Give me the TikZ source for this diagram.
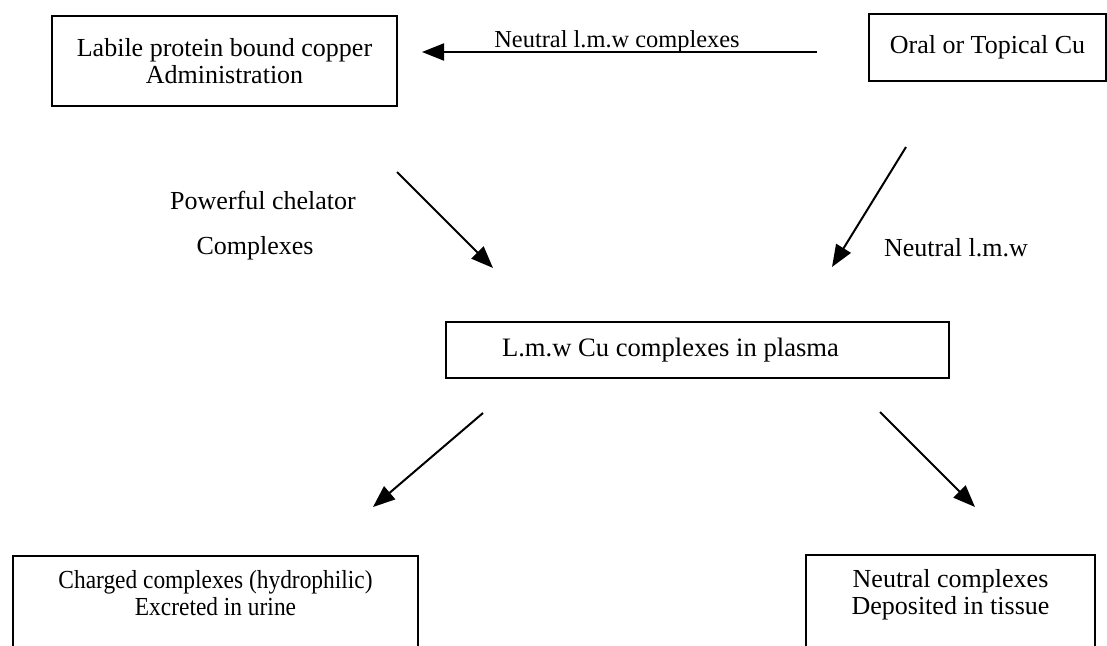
\documentclass[tikz,border=0pt]{standalone}
\usepackage{fontspec}
\setmainfont{Liberation Serif}
\newfontfamily\narrowserif{Liberation Serif}[FakeStretch = 0.9]
\usetikzlibrary{arrows.meta}

\begin{document}
\begin{tikzpicture}[x = 0.5pt, y = -0.5pt,
    box/.style = {draw, line width = 1pt, align = center, inner sep = 0pt, font = \fontsize{13}{13.5}\selectfont},
    arr/.style = {-{Triangle[length = 11pt, width = 8.5pt]}, line width = 1pt},
    lbl/.style = {inner sep = 0pt, font = \fontsize{13}{15}\selectfont}]
  \useasboundingbox (0, 0) rectangle (1107, 646);
  \node [box, minimum width = 172.5pt, minimum height = 45pt] (labile) at (224.5, 61) {Labile protein bound copper\\Administration};
  \node [box, minimum width = 118.5pt, minimum height = 33.5pt] (oral) at (987.5, 47.5) {Oral or Topical Cu};
  \node [box, align = flush left, text width = 195.5pt, inner xsep = 28pt, minimum height = 28pt, font = \fontsize{13.3}{15}\selectfont] (plasma) at (697.5, 350) {L.m.w Cu complexes in plasma};
  \node [box, anchor = north, minimum width = 202.5pt, inner ysep = 7pt, text depth = 60pt, font = \narrowserif\fontsize{13}{13.5}\selectfont] (urine) at (215.5, 555) {Charged complexes (hydrophilic)\\Excreted in urine};
  \node [box, anchor = north, minimum width = 144.5pt, inner ysep = 7pt, text depth = 60pt] (tissue) at (950.5, 554) {Neutral complexes\\Deposited in tissue};
  \coordinate (top-from) at (817, 52);
  \coordinate (top-to) at (422, 52);
  \coordinate (chel-from) at (397, 172);
  \coordinate (chel-to) at (493, 268);
  \coordinate (oral-from) at (906, 147);
  \coordinate (oral-to) at (832, 267);
  \coordinate (urine-from) at (483, 413);
  \coordinate (urine-to) at (373, 507);
  \coordinate (tissue-from) at (880, 412);
  \coordinate (tissue-to) at (975, 507);
  \draw [arr] (top-from) -- (top-to);
  \draw [arr] (chel-from) -- (chel-to);
  \draw [arr] (oral-from) -- (oral-to);
  \draw [arr] (urine-from) -- (urine-to);
  \draw [arr] (tissue-from) -- (tissue-to);
  \node [lbl, anchor = base, font = \fontsize{12.2}{15}\selectfont] (neutral-top) at (617, 48) {Neutral l.m.w complexes};
  \node [lbl] (chelator) at (263, 200) {Powerful chelator};
  \node [lbl] (complexes) at (255, 248) {Complexes};
  \node [lbl] (neutral) at (956, 248) {Neutral l.m.w};
\end{tikzpicture}
\end{document}
